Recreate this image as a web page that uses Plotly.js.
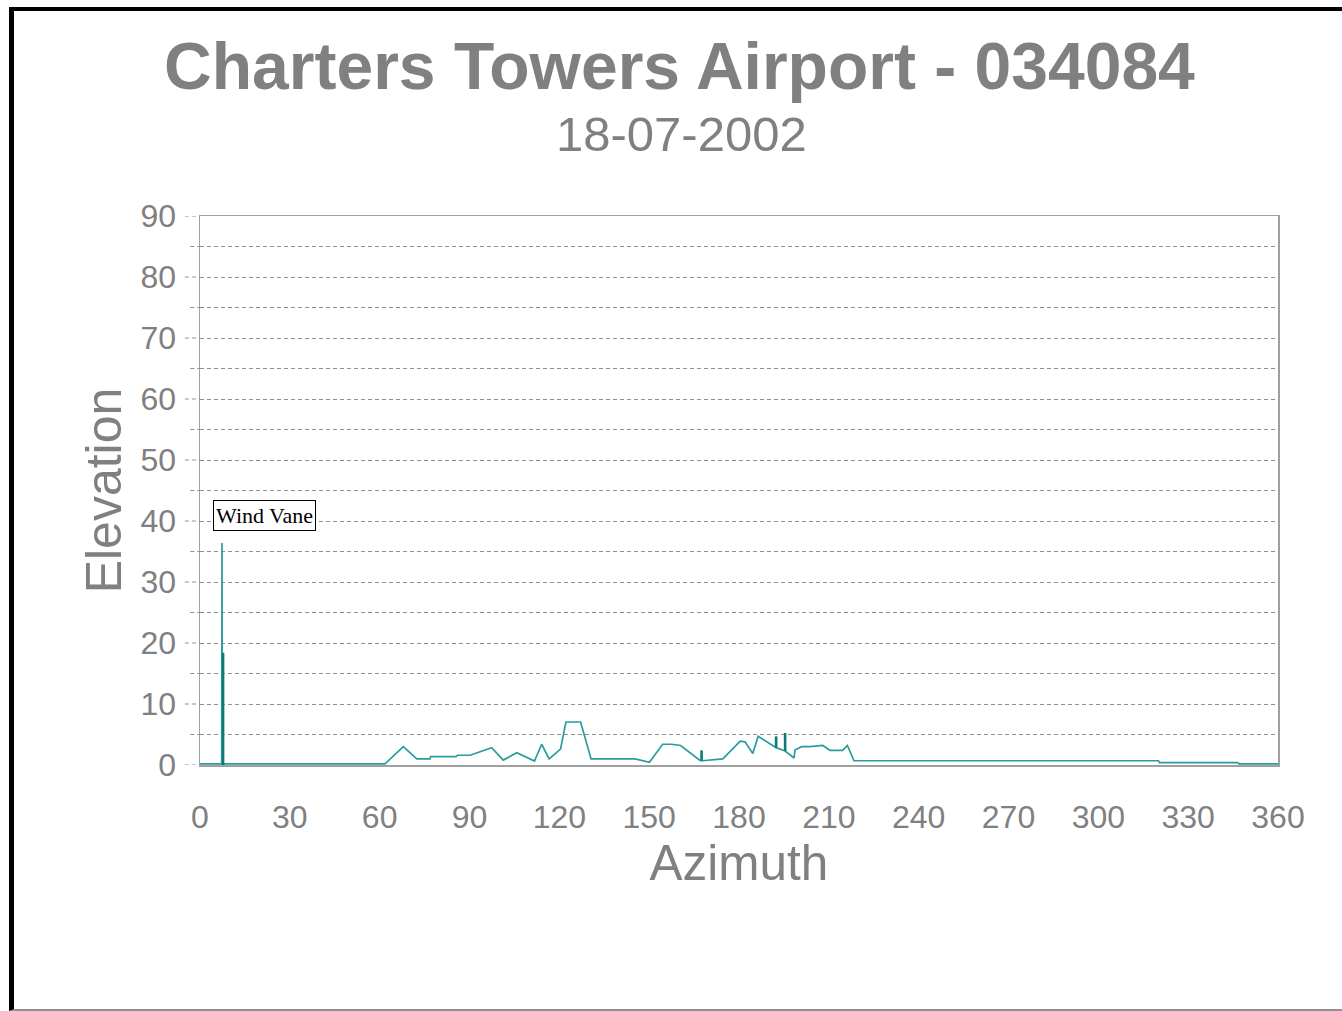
<!DOCTYPE html>
<html>
<head>
<meta charset="utf-8">
<script src="https://cdn.plot.ly/plotly-3.0.1.min.js"></script>
<style>
  html, body { margin: 0; padding: 0; background: #fff; }
  #wrap { position: relative; width: 1342px; height: 1011px; }
  #chart { position: absolute; left: 0; top: 0; width: 1342px; height: 1011px; }
  #frame { position: absolute; left: 9px; top: 7px; width: 1340px; height: 1004px;
           border-left: 5px solid #000; border-top: 4px solid #000; border-bottom: 2px solid #909090;
           pointer-events: none; box-sizing: border-box; }
</style>
</head>
<body>
<div id="wrap">
  <div id="chart"></div>
  <div id="frame"></div>
</div>
<script>
// Horizon profile (azimuth in degrees, elevation in degrees)
const horizonAz = [0, 7.25, 7.35, 7.45, 61.8, 67.9, 72.4, 76.8, 77.0, 85.5, 86.0, 90.2, 97.4, 101.3, 105.8, 111.7, 114.1, 116.6, 120.4, 122.2, 127.1, 130.6, 145.3, 147.5, 150.1, 154.5, 157.5, 160.5, 167.0, 167.8, 174.6, 180.4, 182.0, 184.6, 186.4, 192.4, 194.3, 195.4, 198.4, 198.7, 200.9, 203.7, 208.0, 210.4, 214.6, 216.2, 218.4, 320.1, 320.4, 346.5, 347.0, 360];
const horizonEl = [0.2, 0.2, 36.4, 0.2, 0.2, 3.0, 1.0, 1.0, 1.36, 1.36, 1.6, 1.6, 2.85, 0.8, 2.0, 0.65, 3.4, 1.0, 2.6, 7.05, 7.05, 1.0, 1.0, 0.76, 0.44, 3.4, 3.4, 3.2, 0.76, 0.7, 1.0, 3.9, 3.8, 1.9, 4.7, 2.85, 2.46, 2.3, 1.15, 2.46, 3.0, 3.0, 3.2, 2.4, 2.4, 3.2, 0.7, 0.7, 0.4, 0.4, 0.2, 0.2];

// Obstruction spikes (poles etc.)
const objAz   = [7.7, 167.5, 192.4, 195.4];
const objBase = [0, 0.7, 2.85, 2.3];
const objTop  = [18.4, 2.4, 4.7, 5.25];

// Labelled object
const labelAz   = [7.35];
const labelEl   = [36.4];
const labelText = ['Wind Vane'];

// Axis ticks
const xTicks = [0, 30, 60, 90, 120, 150, 180, 210, 240, 270, 300, 330, 360];
const yTicks = [0, 10, 20, 30, 40, 50, 60, 70, 80, 90];
const yMinor = [5, 15, 25, 35, 45, 55, 65, 75, 85];

const titleText = 'Charters Towers Airport - 034084';
const subtitleText = '18-07-2002';

const objX = [], objY = [];
objAz.forEach((a, i) => { objX.push(a, a, null); objY.push(objBase[i], objTop[i], null); });

const traces = [
  { x: horizonAz, y: horizonEl, type: 'scatter', mode: 'lines',
    line: { color: '#2a9c9c', width: 1.7 }, hoverinfo: 'x+y', showlegend: false },
  { x: objX, y: objY, type: 'scatter', mode: 'lines',
    line: { color: '#0b7a7a', width: 2.6 }, connectgaps: false, showlegend: false }
];

const grey = '#808080';
const shapes = [];
yTicks.forEach(v => shapes.push({ type: 'line', xref: 'paper', yref: 'y', x0: -0.014, x1: 0, y0: v, y1: v,
  line: { color: '#909090', width: 1, dash: '4px,3px' } }));
yMinor.forEach(v => shapes.push({ type: 'line', xref: 'paper', yref: 'y', x0: -0.009, x1: 0, y0: v, y1: v,
  line: { color: '#909090', width: 1, dash: '4px,3px' } }));

const annotations = [
  { xref: 'paper', yref: 'paper', x: 0.4467, y: 1.1494, xanchor: 'center', yanchor: 'middle',
    text: subtitleText, showarrow: false,
    font: { family: 'Liberation Sans, Arial, sans-serif', size: 49, color: grey } }
];
labelAz.forEach((a, i) => annotations.push({
  x: a, y: labelEl[i], xref: 'x', yref: 'y', xanchor: 'left', yanchor: 'bottom',
  xshift: -9, yshift: 12, text: labelText[i], showarrow: false,
  bordercolor: '#000', borderwidth: 1, borderpad: 2, bgcolor: '#fff',
  font: { family: 'Liberation Serif, Times New Roman, serif', size: 22, color: '#000' }
}));

const layout = {
  width: 1342, height: 1011,
  paper_bgcolor: '#fff', plot_bgcolor: '#fff',
  margin: { l: 200, r: 64, t: 216, b: 246 },
  font: { family: 'Liberation Sans, Arial, sans-serif', color: grey },
  title: { text: '<b>' + titleText + '</b>', xref: 'container', yref: 'container',
    x: 0.5063, xanchor: 'center', y: 0.958, yanchor: 'top',
    font: { family: 'Liberation Sans, Arial, sans-serif', size: 66, color: grey } },
  xaxis: {
    range: [0, 360], tickmode: 'array', tickvals: xTicks, ticktext: xTicks.map(String),
    showgrid: false, zeroline: false, showline: true, linecolor: '#a0a0a0', linewidth: 1.5, mirror: true,
    ticks: 'outside', ticklen: 23, tickcolor: 'rgba(0,0,0,0)',
    tickfont: { size: 32, color: grey },
    title: { text: 'Azimuth', font: { size: 49.5, color: grey }, standoff: 8 }
  },
  yaxis: {
    range: [0, 90], tickmode: 'array', tickvals: yTicks, ticktext: yTicks.map(String),
    showgrid: true, gridcolor: '#909090', gridwidth: 1, griddash: '4px,3px',
    minor: { tickvals: yMinor, showgrid: true, gridcolor: '#909090', gridwidth: 1, griddash: '4px,3px', ticks: '' },
    zeroline: false, showline: true, linecolor: '#a0a0a0', linewidth: 1.5, mirror: true,
    ticks: 'outside', ticklen: 16, tickcolor: 'rgba(0,0,0,0)',
    tickfont: { size: 32, color: grey },
    title: { text: 'Elevation', font: { size: 50, color: grey }, standoff: 3 }
  },
  shapes: shapes,
  annotations: annotations
};

Plotly.newPlot('chart', traces, layout, { displayModeBar: false, staticPlot: true });
</script>
</body>
</html>
